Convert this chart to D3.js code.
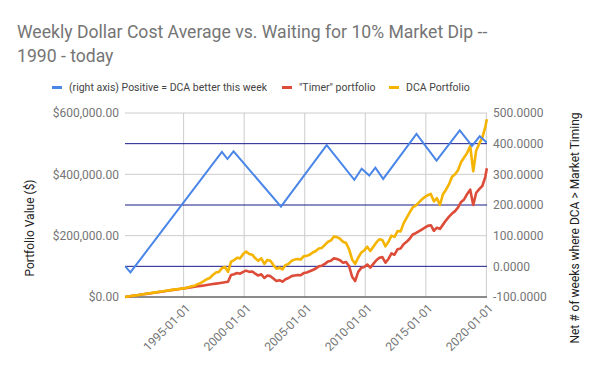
<!DOCTYPE html>
<html>
<head>
<meta charset="utf-8">
<script src="https://cdnjs.cloudflare.com/ajax/libs/d3/7.8.5/d3.min.js"></script>
<style>
body{margin:0;background:#fff;}
text{font-family:Roboto,"Noto Sans",sans-serif;}
</style>
</head>
<body>
<div id="canvas" style="width:600px;height:371px;"></div>
<script>
// data (values in $ thousands for the portfolios)
var blueDates = ['1990-03-10','1990-08-10','1998-03-01','1998-08-15','1999-02-15','2003-01-15','2006-10-25',
  '2009-02-05','2009-09-15','2010-05-01','2010-11-01','2011-06-25','2014-03-25','2015-11-20','2017-10-20',
  '2018-10-25','2019-06-15','2020-01-10'];
var blueValues = [0,-20,373,350,375,195,395,282,318,296,322,285,432,345,443,393,424,404];

// one value per quarter, Mar 1990 .. Dec 2019, then Jan 2020
var dcaValues = [
  0,1.5,3,4.5, 6,7.5,9,10.5, 12,13.5,15,16.5, 18,19.5,21,22.5, 24,25.5,26.5,28,
  29,32,35,37, 42,46,52,58, 62,72,80,82, 94,98,82,115, 120,128,126,140,
  148,140,138,126, 118,126,108,121, 118,104,92,96, 90,104,108,118, 122,124,122,133,
  134,138,145,150, 158,160,170,180, 184,197,195,190, 180,176,155,122, 108,128,145,152,
  164,150,164,178, 188,186,165,180, 200,196,215,214, 240,258,276,292, 298,308,318,326,
  332,336,312,322, 300,335,350,368, 392,400,414,440, 455,470,492,410, 478,500,520,555,
  580];
var timerValues = [
  0,1.5,2.9,4.4, 5.8,7.3,8.7,10.2, 11.6,13.1,14.5,16, 17.4,18.9,20.3,21.8, 23.2,24.7,26.1,27.6,
  29,30.5,31.9,33.4, 34.8,36.3,37.7,39.2, 40.6,42.1,43.5,45, 46.4,47.9,49.5,72, 74,78,76,82,
  86,82,83,76, 70,74,62,70, 68,60,52,55, 50,58,62,68, 70,72,71,78,
  80,84,88,93, 100,102,108,116, 118,126,124,120, 112,114,100,66, 52,82,95,98,
  106,96,108,120, 128,130,112,124, 142,138,156,158, 172,180,190,204, 208,214,220,226,
  232,234,216,226, 222,236,250,262, 272,280,292,310, 318,336,350,300, 340,352,362,392,
  420];

var leftTicks = [0,200000,400000,600000];
var rightTicks = [-100,0,100,200,300,400,500];
var navyTicks = [0,200,400];
var xTicks = ['1995-01-01','2000-01-01','2005-01-01','2010-01-01','2015-01-01','2020-01-01'];

var legendNames = ['(right axis) Positive = DCA better this week','"Timer" portfolio','DCA Portfolio'];
var colors = ['#4a86e8','#dd4b39','#f4b400'];

var parseDate = d3.timeParse('%Y-%m-%d');
var quarterDates = d3.timeMonth.range(new Date(1990,2,1), new Date(2020,0,1), 3);
quarterDates.push(new Date(2020,0,15));

var dca = quarterDates.map(function(d,i){return {date:d, v:dcaValues[i]*1000};});
var timer = quarterDates.map(function(d,i){return {date:d, v:timerValues[i]*1000};});
var blue = blueDates.map(function(d,i){return {date:parseDate(d), v:blueValues[i]};});

var m = {t:113,r:113,b:74,l:125};
var outerWidth = 600, outerHeight = 371;
var w = outerWidth - m.l - m.r,
    h = outerHeight - m.t - m.b;

var svg = d3.select('#canvas')
    .append('svg')
    .attr('width',outerWidth)
    .attr('height',outerHeight);

var plot = svg.append('g')
    .attr('transform','translate(' + m.l + ',' + m.t + ')');

var loc = d3.formatLocale({decimal:'.',thousands:',',grouping:[3],currency:['$',''],minus:'-'});

var scaleX = d3.scaleTime()
    .domain([new Date(1990,1,28), new Date(2020,0,20)])
    .range([0,w]);
var scaleY = d3.scaleLinear().domain([0,600000]).range([h,0]);
var scaleY2 = d3.scaleLinear().domain([-100,500]).range([h,0]);

// title
svg.append('text').attr('x',17).attr('y',38)
    .style('font-size','17.6px').style('fill','#757575')
    .text('Weekly Dollar Cost Average vs. Waiting for 10% Market Dip --');
svg.append('text').attr('x',17).attr('y',62)
    .style('font-size','17.6px').style('fill','#757575')
    .text('1990 - today');

// legend
var lx = [52,282,389];
legendNames.forEach(function(n,i){
    svg.append('rect').attr('x',lx[i]).attr('y',86).attr('width',10).attr('height',3)
        .style('fill',colors[i]);
    svg.append('text').attr('x',lx[i]+17).attr('y',91)
        .style('font-size','10.5px').style('fill','#444')
        .text(n);
});

// gridlines
plot.selectAll('.vgrid').data(xTicks).enter().append('line')
    .attr('class','vgrid')
    .attr('x1',function(d){return scaleX(parseDate(d));})
    .attr('x2',function(d){return scaleX(parseDate(d));})
    .attr('y1',0).attr('y2',h)
    .style('stroke','#cccccc');
plot.selectAll('.hgrid').data(leftTicks).enter().append('line')
    .attr('class','hgrid')
    .attr('x1',0).attr('x2',w)
    .attr('y1',function(d){return scaleY(d);})
    .attr('y2',function(d){return scaleY(d);})
    .style('stroke','#cccccc');
plot.selectAll('.ngrid').data(navyTicks).enter().append('line')
    .attr('class','ngrid')
    .attr('x1',0).attr('x2',w)
    .attr('y1',function(d){return scaleY2(d);})
    .attr('y2',function(d){return scaleY2(d);})
    .style('stroke','#1a1a8c');

// axes
var axisY = d3.axisLeft(scaleY).tickValues(leftTicks).tickSize(0).tickPadding(6)
    .tickFormat(loc.format('$,.2f'));
plot.append('g').attr('class','axis axis-y').call(axisY);

var axisY2 = d3.axisRight(scaleY2).tickValues(rightTicks).tickSize(0).tickPadding(6)
    .tickFormat(loc.format('.4f'));
plot.append('g').attr('class','axis axis-y2')
    .attr('transform','translate(' + w + ',0)')
    .call(axisY2);

var axisX = d3.axisBottom(scaleX).tickValues(xTicks.map(parseDate)).tickSize(0)
    .tickFormat(d3.timeFormat('%Y-%m-%d'));
var gx = plot.append('g').attr('class','axis axis-x')
    .attr('transform','translate(0,' + h + ')')
    .call(axisX);
gx.selectAll('text')
    .attr('text-anchor','end')
    .attr('dy',null).attr('y',0)
    .attr('transform','translate(7,12) rotate(-45)');

svg.selectAll('.axis path').remove();
svg.selectAll('.axis text').style('font-size','12px').style('fill','#757575')
    .style('font-family','Roboto,"Noto Sans",sans-serif');

plot.append('line').attr('x1',0).attr('x2',w).attr('y1',h).attr('y2',h)
    .style('stroke','#333');

// axis titles
svg.append('text')
    .attr('transform','translate(34,228) rotate(-90)')
    .attr('text-anchor','middle')
    .style('font-size','12px').style('fill','#222')
    .text('Portfolio Value ($)');
svg.append('text')
    .attr('transform','translate(579,228) rotate(-90)')
    .attr('text-anchor','middle')
    .style('font-size','12px').style('fill','#222')
    .text('Net # of weeks where DCA > Market Timing');

// series
var line = d3.line()
    .x(function(d){return scaleX(d.date);})
    .y(function(d){return scaleY(d.v);});
var line2 = d3.line()
    .x(function(d){return scaleX(d.date);})
    .y(function(d){return scaleY2(d.v);});

plot.append('path').datum(timer).attr('d',line)
    .style('fill','none').style('stroke',colors[1]).style('stroke-width',2.6)
    .style('stroke-linejoin','round');
plot.append('path').datum(dca).attr('d',line)
    .style('fill','none').style('stroke',colors[2]).style('stroke-width',2.6)
    .style('stroke-linejoin','round');
plot.append('path').datum(blue).attr('d',line2)
    .style('fill','none').style('stroke',colors[0]).style('stroke-width',2);
</script>
</body>
</html>
